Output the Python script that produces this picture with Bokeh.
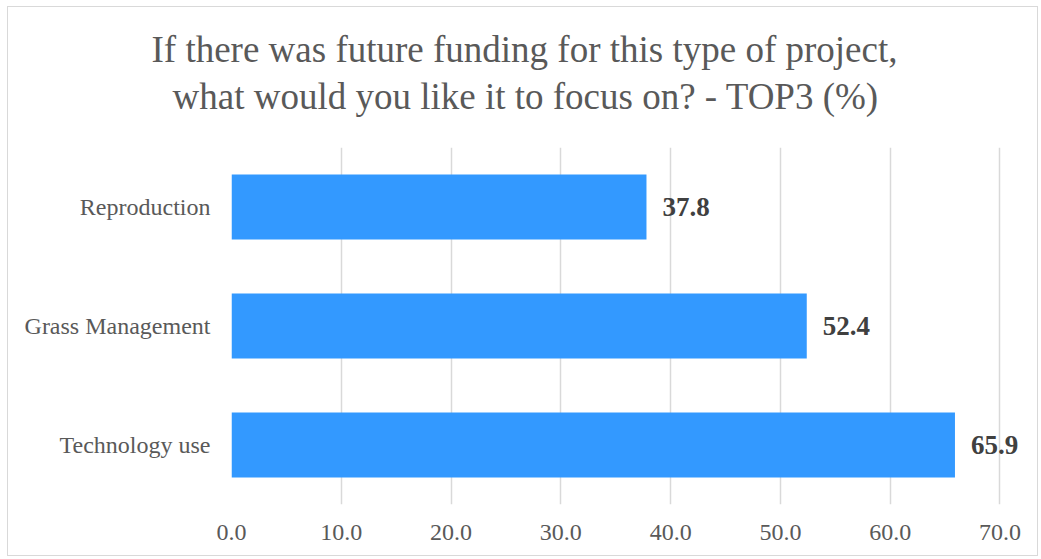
from bokeh.plotting import figure
from bokeh.models import Range1d, FixedTicker, ColumnDataSource, Title, NumeralTickFormatter
from bokeh.core.properties import value
from bokeh.embed import file_html
from bokeh.resources import INLINE

categories = ["Technology use", "Grass Management", "Reproduction"]
values = [65.9, 52.4, 37.8]
labels = ["65.9", "52.4", "37.8"]
x_ticks = [0, 10, 20, 30, 40, 50, 60, 70]
title_lines = ["If there was future funding for this type of project,",
               "what would you like it to focus on? - TOP3 (%)"]

FONT = "Liberation Serif"

src = ColumnDataSource(dict(cat=categories, val=values, lab=labels))

p = figure(width=1031, height=550, y_range=categories, x_range=Range1d(0, 73.6),
           output_backend="svg", toolbar_location=None,
           min_border_left=223, min_border_right=0, min_border_top=140, min_border_bottom=53)
p.styles = {"border": "1px solid #d9d9d9", "margin-left": "7px", "margin-top": "6px"}
p.outline_line_color = None
p.background_fill_color = "white"
p.border_fill_color = "white"

t2 = Title(text=title_lines[1], align="left", offset=-59, standoff=61,
           text_font=FONT, text_font_size="37px", text_font_style="normal", text_color="#595959")
t1 = Title(text=title_lines[0], align="left", offset=-80, standoff=-52,
           text_font=FONT, text_font_size="37px", text_font_style="normal", text_color="#595959")
p.add_layout(t2, "above")
p.add_layout(t1, "above")

p.hbar(y="cat", right="val", height=0.545, source=src, color="#3399ff", line_color=None)
p.text(x="val", y="cat", text="lab", source=src, x_offset=16, text_align="left", text_baseline="middle",
       text_font=value(FONT), text_font_size="27px", text_font_style="bold", text_color="#404040")

p.xaxis.ticker = FixedTicker(ticks=x_ticks)
p.xaxis.formatter = NumeralTickFormatter(format="0.0")
for ax in (p.xaxis, p.yaxis):
    ax.axis_line_color = None
    ax.major_tick_line_color = None
    ax.minor_tick_line_color = None
    ax.major_tick_out = 0
    ax.major_tick_in = 0
    ax.major_label_text_font = FONT
    ax.major_label_text_font_size = "24px"
    ax.major_label_text_color = "#595959"
p.xaxis.major_label_standoff = 20
p.yaxis.major_label_standoff = 21

p.ygrid.grid_line_color = None
p.xgrid.grid_line_color = "#d9d9d9"
p.xgrid.grid_line_width = 1.5

open("out.html", "w").write(file_html(p, INLINE))
